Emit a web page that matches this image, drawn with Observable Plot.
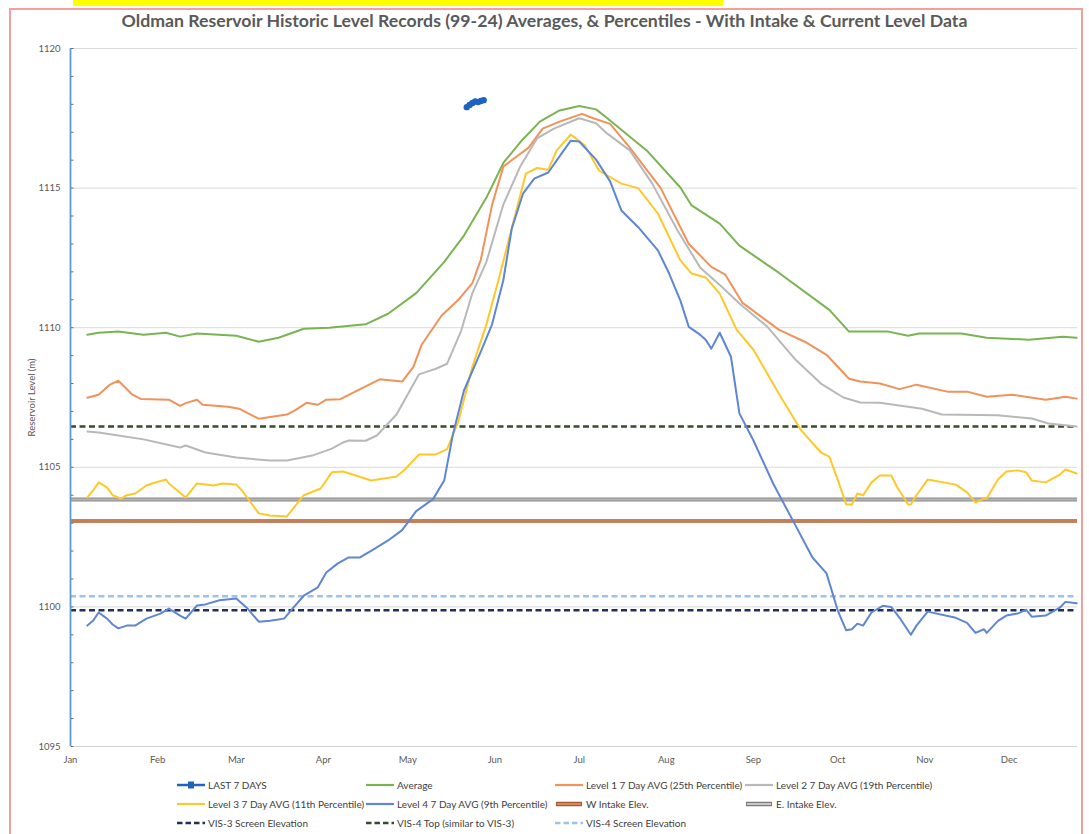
<!DOCTYPE html>
<html><head><meta charset="utf-8">
<script src="https://cdn.jsdelivr.net/npm/d3@7"></script>
<script src="https://cdn.jsdelivr.net/npm/@observablehq/plot@0.6"></script>
<style>
body{margin:0;background:#fff;font-family:Lato,sans-serif;}
#wrap{position:relative;width:1089px;height:834px;overflow:hidden;background:#fff;}
#frame{position:absolute;left:9px;top:8px;width:1074px;height:840px;border:2px solid #f4a09a;box-sizing:border-box;}
#hl{position:absolute;left:73px;top:0;width:650px;height:6px;background:#ffff00;}
#title{position:absolute;left:0;top:10px;width:1089px;text-align:center;color:#595959;font-weight:700;white-space:nowrap;}
#chart{position:absolute;left:0;top:40px;}
.lg{position:absolute;display:flex;align-items:center;font-size:10px;color:#404040;white-space:nowrap;}
.lg svg{margin-right:2px;}
</style></head><body><div id="wrap"><div id="frame"></div><div id="hl"></div><div id="title"></div><div id="chart"></div><div id="legend"></div></div>
<script>
const titleText = "Oldman Reservoir Historic Level Records (99-24) Averages, & Percentiles - With Intake & Current Level Data";
const monthStarts = [0,31,59,90,120,151,181,212,243,273,304,334];
const monthLabels = ["Jan","Feb","Mar","Apr","May","Jun","Jul","Aug","Sep","Oct","Nov","Dec"];
const yTicks = [1095,1100,1105,1110,1115,1120];
const gridLevels = [1100,1105,1110,1115,1120];

// [day of year, level (m)]
const averageLevels = [[6,1109.75],[10,1109.82],[17,1109.86],[26,1109.75],[34,1109.82],[39,1109.68],[45,1109.79],[59,1109.71],[67,1109.5],[74,1109.64],[83,1109.96],[92,1110.0],[105,1110.12],[113,1110.5],[123,1111.24],[133,1112.36],[140,1113.3],[148,1114.66],[154,1115.9],[160,1116.64],[167,1117.38],[174,1117.78],[181,1117.94],[187,1117.82],[191,1117.5],[205,1116.35],[217,1115.02],[221,1114.38],[231,1113.73],[238,1112.94],[252,1111.97],[270,1110.64],[277,1109.86],[291,1109.86],[298,1109.71],[302,1109.79],[317,1109.79],[326,1109.64],[341,1109.57],[353,1109.68],[358,1109.64]];
const level1Levels = [[6,1107.49],[10,1107.6],[14,1107.96],[17,1108.1],[19,1107.9],[22,1107.6],[25,1107.45],[35,1107.42],[39,1107.2],[41,1107.3],[45,1107.42],[47,1107.24],[56,1107.17],[60,1107.1],[67,1106.74],[77,1106.89],[80,1107.05],[84,1107.31],[88,1107.24],[91,1107.42],[96,1107.44],[105,1107.9],[110,1108.15],[118,1108.07],[122,1108.6],[125,1109.4],[132,1110.43],[138,1111.0],[143,1111.6],[146,1112.44],[150,1114.4],[154,1115.77],[159,1116.15],[163,1116.45],[168,1117.13],[174,1117.38],[182,1117.66],[186,1117.5],[192,1117.3],[199,1116.45],[210,1115.0],[220,1113.0],[228,1112.18],[233,1111.9],[239,1110.9],[252,1109.93],[262,1109.46],[269,1109.03],[277,1108.17],[281,1108.07],[288,1108.0],[295,1107.8],[301,1107.96],[312,1107.71],[319,1107.71],[326,1107.53],[335,1107.6],[347,1107.42],[354,1107.53],[358,1107.46]];
const level2Levels = [[6,1106.28],[10,1106.25],[17,1106.14],[26,1106.0],[39,1105.71],[41,1105.78],[48,1105.53],[59,1105.35],[71,1105.24],[77,1105.24],[86,1105.42],[93,1105.67],[97,1105.89],[99,1105.96],[105,1105.95],[109,1106.14],[116,1106.89],[124,1108.33],[130,1108.53],[134,1108.71],[139,1109.89],[143,1111.24],[148,1112.36],[154,1114.41],[160,1115.77],[166,1116.78],[172,1117.13],[181,1117.5],[187,1117.32],[191,1116.95],[199,1116.35],[207,1115.16],[216,1113.48],[224,1112.16],[232,1111.44],[238,1110.87],[248,1110.03],[258,1108.85],[267,1108.0],[275,1107.5],[281,1107.32],[288,1107.31],[298,1107.17],[303,1107.1],[310,1106.89],[330,1106.86],[342,1106.75],[348,1106.57],[358,1106.46]];
const level3Levels = [[6,1103.92],[8,1104.17],[10,1104.46],[13,1104.28],[15,1104.0],[18,1103.88],[20,1104.0],[23,1104.06],[27,1104.35],[29,1104.42],[34,1104.56],[35,1104.42],[41,1103.92],[45,1104.42],[51,1104.35],[54,1104.42],[59,1104.38],[61,1104.17],[67,1103.35],[71,1103.27],[77,1103.24],[83,1104.0],[89,1104.24],[93,1104.82],[97,1104.85],[107,1104.53],[116,1104.67],[119,1104.92],[124,1105.46],[130,1105.46],[134,1105.65],[138,1106.64],[143,1108.6],[148,1110.12],[152,1111.6],[157,1113.55],[162,1115.52],[166,1115.72],[170,1115.66],[173,1116.35],[178,1116.92],[183,1116.53],[188,1115.63],[196,1115.16],[202,1115.0],[209,1114.09],[217,1112.41],[221,1111.94],[226,1111.8],[231,1111.22],[237,1109.93],[243,1109.21],[252,1107.64],[260,1106.32],[267,1105.53],[270,1105.38],[273,1104.55],[276,1103.67],[278,1103.67],[280,1104.06],[282,1104.0],[285,1104.46],[288,1104.71],[292,1104.71],[294,1104.31],[296,1104.0],[298,1103.67],[299,1103.67],[301,1104.0],[305,1104.56],[315,1104.38],[319,1104.1],[322,1103.74],[325,1103.88],[326,1103.88],[330,1104.56],[333,1104.85],[337,1104.89],[340,1104.82],[342,1104.53],[347,1104.46],[352,1104.74],[354,1104.92],[358,1104.78]];
const level4Levels = [[6,1099.33],[8,1099.5],[10,1099.8],[13,1099.58],[15,1099.37],[17,1099.23],[20,1099.33],[23,1099.33],[27,1099.58],[32,1099.76],[35,1099.94],[39,1099.69],[41,1099.58],[45,1100.05],[48,1100.09],[53,1100.24],[59,1100.3],[63,1099.94],[67,1099.47],[71,1099.5],[76,1099.58],[79,1099.94],[83,1100.4],[88,1100.7],[91,1101.23],[95,1101.55],[99,1101.77],[103,1101.77],[108,1102.07],[113,1102.38],[118,1102.75],[123,1103.43],[129,1103.86],[133,1104.54],[136,1106.15],[140,1107.75],[146,1109.14],[150,1110.12],[154,1111.7],[157,1113.55],[161,1114.8],[165,1115.34],[170,1115.56],[175,1116.28],[178,1116.7],[181,1116.67],[187,1116.02],[192,1115.24],[196,1114.2],[202,1113.6],[209,1112.77],[213,1111.94],[217,1110.97],[220,1110.03],[224,1109.75],[226,1109.57],[228,1109.25],[231,1109.82],[235,1108.96],[238,1106.93],[243,1105.96],[250,1104.42],[257,1103.1],[264,1101.77],[269,1101.2],[273,1099.87],[276,1099.16],[278,1099.2],[280,1099.4],[282,1099.33],[285,1099.8],[289,1100.04],[292,1100.0],[295,1099.61],[299,1099.0],[301,1099.33],[305,1099.83],[315,1099.61],[319,1099.43],[322,1099.07],[325,1099.2],[326,1099.07],[330,1099.5],[333,1099.69],[337,1099.76],[340,1099.9],[342,1099.65],[347,1099.69],[352,1099.97],[354,1100.18],[358,1100.13]];
const last7Days = [[141,1117.9],[142,1117.98],[143,1118.05],[144,1118.1],[145,1118.08],[146,1118.12],[147,1118.15]];

const vis4TopLevel = 1106.46;
const eIntakeLevel = 1103.85;
const wIntakeLevel = 1103.08;
const vis4ScreenLevel = 1100.38;
const vis3ScreenLevel = 1099.88;

const C = {
  last: "#1f63c0", avg: "#7ab452", l1: "#f0925a", l2: "#b8b8b8", l3: "#ffc82a", l4: "#5f86d4",
  vis3: "#1f2f5a", vis4top: "#3a4a2c", vis4s: "#9dc3e6"
};

// title fitted to its width in the reference
const tEl = document.getElementById("title");
tEl.textContent = titleText;
{
  const ctx = document.createElement("canvas").getContext("2d");
  ctx.font = "700 17px Lato";
  const w = ctx.measureText(titleText).width;
  tEl.style.fontSize = (17 * 848 / w).toFixed(2) + "px";
}

const xy = {x: d => d[0], y: d => d[1]};
const plot = Plot.plot({
  width: 1089, height: 740,
  marginLeft: 70, marginRight: 12, marginTop: 8, marginBottom: 34,
  style: {fontFamily: "Lato, sans-serif", fontSize: "9.5px", color: "#595959", background: "transparent", overflow: "visible"},
  x: {domain: [0, 358.3], axis: null},
  y: {domain: [1095, 1120], axis: null},
  marks: [
    Plot.ruleY(gridLevels, {stroke: "#dadada", strokeWidth: 1}),
    Plot.ruleY([1095], {stroke: "#d0d0d0", strokeWidth: 1}),
    Plot.axisY({ticks: yTicks, tickSize: 0, tickPadding: 10, tickFormat: d => String(d), fill: "#595959",
      label: "Reservoir Level (m)", labelAnchor: "center", labelOffset: 42, labelArrow: "none"}),
    Plot.axisX({ticks: monthStarts, tickSize: 0, tickPadding: 10, tickFormat: (d, i) => monthLabels[i], fill: "#595959", label: null}),
    // reference levels
    Plot.ruleY([vis4TopLevel], {stroke: C.vis4top, strokeWidth: 2.5, strokeDasharray: "6,3.5"}),
    Plot.ruleY([eIntakeLevel], {stroke: "#8a8a8a", strokeWidth: 4}),
    Plot.ruleY([eIntakeLevel], {stroke: "#b4b4b4", strokeWidth: 2}),
    Plot.ruleY([wIntakeLevel], {stroke: "#a65a34", strokeWidth: 3.5}),
    Plot.ruleY([wIntakeLevel], {stroke: "#d48a5e", strokeWidth: 1.5}),
    Plot.ruleY([vis4ScreenLevel], {stroke: C.vis4s, strokeWidth: 2.5, strokeDasharray: "6,3.5"}),
    Plot.ruleY([vis3ScreenLevel], {stroke: C.vis3, strokeWidth: 2.5, strokeDasharray: "6,3.5"}),
    // series
    Plot.line(averageLevels, {...xy, stroke: C.avg, strokeWidth: 2}),
    Plot.line(level1Levels, {...xy, stroke: C.l1, strokeWidth: 2}),
    Plot.line(level2Levels, {...xy, stroke: C.l2, strokeWidth: 2}),
    Plot.line(level3Levels, {...xy, stroke: C.l3, strokeWidth: 2}),
    Plot.line(level4Levels, {...xy, stroke: C.l4, strokeWidth: 2}),
    Plot.ruleX([0], {stroke: "#5b9bd5", strokeWidth: 1.8}),
    // minor tick marks just inside the axis line
    Plot.axisY({ticks: d3.range(1095, 1121, 1), tickSize: 2.5, dx: 3.5, tickFormat: () => "", stroke: "#6f6f6f", strokeWidth: 1}),
    Plot.line(last7Days, {...xy, stroke: C.last, strokeWidth: 4}),
    Plot.dot(last7Days, {...xy, fill: C.last, r: 3.2})
  ]
});
document.getElementById("chart").appendChild(plot);

// legend
const legendItems = [
  {label: "LAST 7 DAYS", col: 0, row: 0, kind: "marker", c: C.last},
  {label: "Average", col: 1, row: 0, kind: "line", c: C.avg},
  {label: "Level 1 7 Day AVG (25th Percentile)", col: 2, row: 0, kind: "line", c: C.l1},
  {label: "Level 2 7 Day AVG (19th Percentile)", col: 3, row: 0, kind: "line", c: C.l2},
  {label: "Level 3 7 Day AVG (11th Percentile)", col: 0, row: 1, kind: "line", c: C.l3},
  {label: "Level 4 7 Day AVG (9th Percentile)", col: 1, row: 1, kind: "line", c: C.l4},
  {label: "W Intake Elev.", col: 2, row: 1, kind: "double", c: "#a65a34", c2: "#d48a5e"},
  {label: "E. Intake Elev.", col: 3, row: 1, kind: "double", c: "#7a7a7a", c2: "#c8c8c8"},
  {label: "VIS-3 Screen Elevation", col: 0, row: 2, kind: "dash", c: C.vis3},
  {label: "VIS-4 Top (similar to VIS-3)", col: 1, row: 2, kind: "dash", c: C.vis4top},
  {label: "VIS-4 Screen Elevation", col: 2, row: 2, kind: "dash", c: C.vis4s}
];
const colX = [177, 366, 555, 745];
const rowY = [785, 804, 823];
const lg = document.getElementById("legend");
for (const it of legendItems) {
  const d = document.createElement("div");
  d.className = "lg";
  d.style.left = colX[it.col] + "px";
  d.style.top = (rowY[it.row] - 7) + "px";
  d.style.height = "14px";
  let s = "";
  if (it.kind === "line") s = `<line x1="0" y1="5" x2="28" y2="5" stroke="${it.c}" stroke-width="2.2"/>`;
  if (it.kind === "marker") s = `<line x1="0" y1="5" x2="28" y2="5" stroke="${it.c}" stroke-width="2.5"/><rect x="11" y="1.5" width="6" height="7" fill="${it.c}"/>`;
  if (it.kind === "double") s = `<line x1="1" y1="5" x2="27" y2="5" stroke="${it.c}" stroke-width="4.5"/><line x1="2" y1="5" x2="26" y2="5" stroke="${it.c2}" stroke-width="2"/>`;
  if (it.kind === "dash") s = `<line x1="0" y1="5" x2="28" y2="5" stroke="${it.c}" stroke-width="2.5" stroke-dasharray="5.5,3"/>`;
  d.innerHTML = `<svg width="29" height="10">${s}</svg><span>${it.label}</span>`;
  lg.appendChild(d);
}
</script></body></html>
